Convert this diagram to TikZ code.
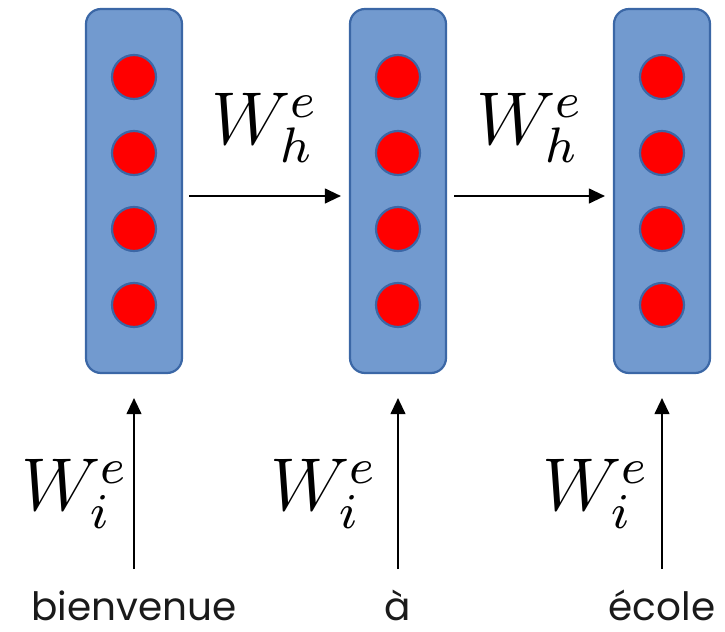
\documentclass[tikz,border=0pt]{standalone}
\usepackage{fontspec}
\setsansfont{Poppins}
\usepackage{tikz}
\usetikzlibrary{arrows.meta,positioning,calc}
\definecolor{RNFill}{HTML}{729ACF}
\definecolor{RNEdge}{HTML}{3B67A6}
\definecolor{RNDot}{HTML}{FF0000}
\definecolor{RNInk}{HTML}{1A1A1A}
\tikzset{
  flow/.style={-{Triangle[length=8pt,width=7.5pt]},black,line width=0.6pt},
  cell/.style={draw=RNEdge,line width=1.1pt,fill=RNFill,rounded corners=7.5pt,
               minimum width=48pt,minimum height=182pt,inner sep=0pt},
  unit/.style={circle,draw=RNEdge,line width=1.1pt,fill=RNDot,
               minimum size=22pt,inner sep=0pt},
  weight/.style={font=\fontsize{12}{14}\selectfont,inner sep=0pt},
  word/.style={font=\sffamily\fontsize{19.5}{22}\selectfont,text=RNInk,
               anchor=base,inner sep=0pt},
}
\newcommand{\bigw}[1]{\scalebox{3.12}{$W_{#1}^{e}$}}

\begin{document}
\begin{tikzpicture}[x=0.5pt,y=-0.5pt]
    \useasboundingbox (0,0) rectangle (725,632);

    % hidden states
    \foreach \c/\x in {1/134,2/398,3/662}{
      \node[cell] (h\c) at (\x,191) {};
      \foreach \r/\y in {1/77,2/153,3/229,4/305}{
        \node[unit] (u\c\r) at (\x,\y) {};
      }
    }

    % input words
    \node[word] (w1) at (134,620) {bienvenue};
    \node[word] (w2) at (398,620) {à};
    \node[word] (w3) at (662,620) {école};

    \foreach \c in {1,2,3}{
      \coordinate (in\c) at ($(h\c.south)+(0,195)$);
      \draw[flow,shorten >=12pt] (in\c) -- (h\c.south);
    }

    \node[weight] (wi1) at (75,494) {\bigw{i}};
    \node[weight] (wi2) at (324,494) {\bigw{i}};
    \node[weight] (wi3) at (596,494) {\bigw{i}};

    % recurrence
    \draw[flow,shorten <=3pt,shorten >=4pt] ([yshift=-2.5pt]h1.east) -- ([yshift=-2.5pt]h2.west);
    \draw[flow,shorten <=3.5pt,shorten >=4pt] ([yshift=-2.5pt]h2.east) -- ([yshift=-2.5pt]h3.west);
    \node[weight] (wh1) at (265,128) {\bigw{h}};
    \node[weight] (wh2) at (530,128) {\bigw{h}};
  \end{tikzpicture}
\end{document}
